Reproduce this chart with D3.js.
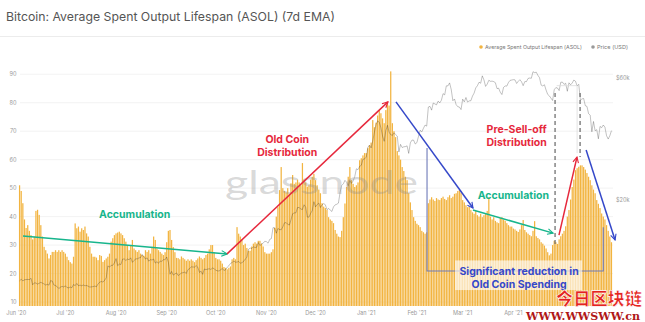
<!DOCTYPE html>
<html><head><meta charset="utf-8">
<script src="https://cdn.jsdelivr.net/npm/d3@7"></script>
<style>body{margin:0;background:#fff}svg{display:block}</style>
</head><body>
<svg id="c" width="645" height="322"></svg>
<script>
// ---------- data ----------
const startDate = "2020-06-03";
const asol = [
51,49,44.7,39,36,37,35,33.5,32,33,42,42.4,40.6,37,33,29.4,28.2,27,25.3,26.5,
27.6,27.6,28.2,27.6,28.2,27.6,28.2,27.6,27,25.9,24.7,24,23.5,25.9,37.6,35.9,36.5,34.7,35.9,35.3,
36.5,34.1,33,29.4,27,25.9,25.9,25.6,24.7,26.5,26.2,24.1,24.7,25.3,25.9,27,31.2,32.4,33.5,34.1,
34.4,34.7,34.1,33.5,32.4,31.2,30,28.2,30,31.8,28.8,28.2,27.6,28.2,27,26.5,26.2,28.2,27.6,28.2,
27,29.4,33,31.8,28.8,28.2,27.6,27,26.5,27.5,31,35,35.3,31.8,29.3,27.5,25.5,25.4,25,26,
25.5,25,24.5,25,24.5,25,24.5,24,24.7,25.3,26,25.5,25,25.5,26.5,27,28.5,30,30,27.5,
25.5,25,25,24.5,23.5,22.3,22,21.5,22,22.5,25,25.5,25,36.3,34,33,32,30,30.5,29,
28,28,29.5,30.5,31,30.5,31.5,31.5,30.5,29.5,27.5,27,27,27,27.5,28.5,36,40,43.3,49.3,
57.4,50,49,48.5,50,48,51.7,54.6,51.5,52,53,52,51,58.8,53,52,50.5,51,53,54,
55,52.8,51,49.5,48.2,44.7,43.5,43,42.3,39.8,39,38.5,37.7,35.3,34,33,32.8,35,39.8,44.6,
50.4,54,57.4,52.8,51.5,50.4,51,52,59.8,60.5,61.5,62.3,62.3,64,65,66,73.9,71.4,73,75.5,
77.4,76.3,74.5,72.8,77.4,80,79,91,72.8,70,67.9,63,61.5,60,57.4,56,54,52.8,48.2,45,
42.3,39.8,38.5,37.5,37,36.3,35,34.5,34,34.5,44.7,46,46.8,46,45.5,46.5,46,45.8,46.5,47,
46.2,45.8,46.8,47.5,46.5,47,48,48.2,49,49.3,48.5,45.8,45,44,43.3,43.5,42.3,41.5,41,42,
40.5,40,41,39.8,40.5,41,42,46.8,40,39,39.8,38.5,38,37.7,39.5,39.8,39,38.5,37.7,37,
36.5,36.5,35.8,35.5,35,34.6,35.5,37,38.8,35.3,34.5,34,33.5,33.1,35,38.4,33.1,32.5,32,31,
30.5,29.8,28.8,27.5,26.4,27,30,31.5,31,30.4,32,33.1,34,35,36.6,40,42.3,46,50.4,53,
56.3,57,57.5,58,58,57.4,56.5,55.3,54,52.8,51,49.5,48.2,45.8,44.5,43,41.1,40,39,37,
35,33,31
];
const priceUSD = [
// Jun 2020 (from 3rd)
9660,9800,9650,9750,9770,9780,9770,9880,9320,9480,9470,9380,9450,9530,9460,9390,9300,9360,9290,9680,9630,9300,9250,9160,9010,9120,9190,9140,
// Jul
9230,9090,9070,9130,9080,9340,9250,9430,9240,9290,9240,9300,9240,9260,9200,9130,9150,9170,9210,9160,9390,9540,9600,9550,9700,9930,11050,10930,11100,11110,11350,
// Aug
11800,11070,11230,11190,11740,11770,11600,11750,11680,11880,11410,11580,11780,11770,11870,11910,12250,11990,11760,11880,11530,11680,11650,11750,11330,11470,11320,11540,11510,11680,11680,
// Sep
11970,11410,10250,10510,10170,10280,10370,10130,10240,10360,10400,10440,10330,10680,10790,10950,10940,10930,11080,10920,10420,10530,10240,10740,10690,10730,10770,10700,10840,10780,
// Oct
10620,10570,10550,10670,10790,10600,10670,10920,11060,11300,11380,11550,11430,11430,11500,11320,11370,11500,11750,11920,12820,12970,12930,13120,13030,13070,13640,13270,13460,13560,13800,
// Nov
13740,13550,14030,14130,15590,15580,14830,15480,15330,15300,15700,16280,16320,16070,15960,16730,17670,17800,17820,18680,18700,18420,18370,19160,18730,17150,17140,17720,18180,19700,
// Dec
18800,19200,19450,18700,19150,19360,19170,18320,18550,18260,18040,18800,19140,19250,19440,21380,22800,23140,23860,23480,22750,23830,23240,23730,24710,26490,26280,27080,27360,28840,29000,
// Jan 2021
29370,32130,32780,31970,33990,36820,39370,40790,40250,38350,35570,33920,37320,39190,36830,36020,35790,36630,36070,35550,30830,33000,32080,32290,32360,32570,30430,33470,34320,34270,33110,
// Feb
33540,35510,37470,36930,38140,39270,38900,46200,46480,44920,47910,47500,47110,48720,47940,49130,52120,51550,55910,55890,57410,54090,48890,49680,47220,46340,46190,45140,
// Mar
49590,48400,50340,48310,48830,48880,50970,52370,54880,55960,57750,57230,61190,59020,55640,56780,58800,58230,58330,58070,57520,54530,54740,52770,51700,55140,55850,55780,57630,58730,58920,
// Apr
59100,59010,57120,58230,59090,57990,56000,58090,58080,59770,60000,59860,63500,62970,63230,61460,60140,56270,55860,56470,53850,51760,51090,50050,49000,54020,55030,54820,53560,57750,
// May
57830,56630,57210,53240,57470,56430,57380,58930,58280,55860,56700,49150,49720,49880,46760,46460,43540,42910,36960,40560,37310,37680,34700,38800,38360,39290,38530,35680,34620,35680,37340
];
const yTicks = [10,20,30,40,50,60,70,80,90];
const priceTicks = [20000,60000];
const priceTickLabels = ["$20k","$60k"];
const monthTicks = ["2020-06-01","2020-07-01","2020-08-01","2020-09-01","2020-10-01","2020-11-01","2020-12-01","2021-01-01","2021-02-01","2021-03-01","2021-04-01"];
const monthLabels = ["Jun '20","Jul '20","Aug '20","Sep '20","Oct '20","Nov '20","Dec '20","Jan '21","Feb '21","Mar '21","Apr '21"];
const title = "Bitcoin: Average Spent Output Lifespan (ASOL) (7d EMA)";
const legendLabels = ["Average Spent Output Lifespan (ASOL)","Price (USD)"];
// annotations in data space: [days since 2020-06-01, ASOL value]
const arrows = [
  {kind:"green", pts:[[4.1,33.2],[128.9,26.9]]},
  {kind:"red",   pts:[[128.9,26.9],[227.3,80.3]]},
  {kind:"blue",  pts:[[232.2,80.3],[279.3,43.0]]},
  {kind:"green", pts:[[279.3,42.3],[328.3,34.2]]},
  {kind:"red",   pts:[[331.9,33.5],[342.9,60.9]]},
  {kind:"blue",  pts:[[348.5,63.4],[366.2,31.8]]}
];
const dashed = [[[329.5,83.4],[329.5,29.3]],[[344.8,83.4],[344.8,60.9]]];
const bracket = [[251.2,64.1],[251.2,20.9],[359,20.9],[359,36.3]];
const notes = [
  {kind:"green", at:[72.4,39.5], lines:["Accumulation"]},
  {kind:"red",   at:[165.7,65.8], lines:["Old Coin","Distribution"]},
  {kind:"green", at:[304,46.3], lines:["Accumulation"]},
  {kind:"red",   at:[306,69.2], lines:["Pre-Sell-off","Distribution"]},
  {kind:"blue",  at:[307.5,19.5], lines:["Significant reduction in","Old Coin Spending"], box:[[268.3,24.6],[346,14.2]]}
];

// ---------- drawing ----------
const colors = {green:"#17b58c", red:"#e6283c", blue:"#3548c9"};
const barColor = "#f2b440";
const svg = d3.select("#c");
const parse = d3.utcParse("%Y-%m-%d");
const t0 = parse(startDate);
const tBase = parse("2020-06-01");
const dates = asol.map((_,i)=>d3.utcDay.offset(t0,i));
const x = d3.scaleUtc().domain([tBase, parse("2021-06-01")]).range([16.3, 613.1]);
const y = d3.scaleLinear().domain([8.6,95]).range([306,60]);
const yP = d3.scaleLog().domain([20000,60000]).range([200,78]);
const dx = d => x(new Date(tBase.getTime()+d*864e5));
const P = p => [dx(p[0]), y(p[1])];
const FONT = "Inter, 'Noto Sans', sans-serif";

svg.append("rect").attr("width",645).attr("height",322).attr("fill","#fff");
svg.append("text").attr("x",6).attr("y",21).attr("font-family",FONT).attr("font-size",12)
  .attr("fill","#555").attr("textLength",329).attr("lengthAdjust","spacingAndGlyphs").text(title);
svg.append("line").attr("x1",0).attr("x2",645).attr("y1",36.5).attr("y2",36.5).attr("stroke","#ececec");

// legend
const lg = svg.append("g").attr("font-family",FONT).attr("font-size",5.4).attr("fill","#777");
lg.append("circle").attr("cx",481).attr("cy",47).attr("r",1.8).attr("fill",barColor);
lg.append("text").attr("x",485).attr("y",49).attr("textLength",97).attr("lengthAdjust","spacingAndGlyphs").text(legendLabels[0]);
lg.append("circle").attr("cx",593).attr("cy",47).attr("r",1.8).attr("fill","#999");
lg.append("text").attr("x",597).attr("y",49).attr("textLength",31).attr("lengthAdjust","spacingAndGlyphs").text(legendLabels[1]);

// grid + y labels
const g = svg.append("g");
g.selectAll("line.grid").data(yTicks).join("line").attr("class","grid")
  .attr("x1",20).attr("x2",613).attr("y1",d=>y(d)).attr("y2",d=>y(d)).attr("stroke","#efefef").attr("stroke-width",0.8);
g.selectAll("text.yl").data(yTicks).join("text").attr("class","yl")
  .attr("x",16.5).attr("y",d=>y(d)+2).attr("text-anchor","end").attr("font-family",FONT)
  .attr("font-size",5.6).attr("fill","#9a9a9a").text(d=>d);
g.selectAll("text.pl").data(priceTicks).join("text").attr("class","pl")
  .attr("x",616).attr("y",d=>yP(d)+2).attr("font-family",FONT)
  .attr("font-size",5.6).attr("fill","#9a9a9a").text((d,i)=>priceTickLabels[i]);
g.selectAll("text.xl").data(monthTicks).join("text").attr("class","xl")
  .attr("x",d=>x(parse(d))).attr("y",315).attr("text-anchor","middle").attr("font-family",FONT)
  .attr("font-size",5.6).attr("fill","#9a9a9a").text((d,i)=>monthLabels[i]);

// bars
svg.append("g").selectAll("rect").data(asol).join("rect")
  .attr("x",(d,i)=>x(dates[i])-0.62).attr("width",1.24)
  .attr("y",d=>y(d)).attr("height",d=>y.range()[0]-y(d)).attr("fill",barColor);

// price line
svg.append("path").datum(priceUSD)
  .attr("d", d3.line().x((d,i)=>x(dates[i])).y(d=>yP(d)))
  .attr("fill","none").attr("stroke","#000").attr("stroke-opacity",0.3).attr("stroke-width",0.8);

// glassnode watermark
svg.append("text").attr("x",225).attr("y",194).attr("font-family","Lato, 'Noto Sans', sans-serif")
  .attr("font-size",33).attr("fill","#8a8a8a").attr("fill-opacity",0.33)
  .attr("textLength",193).attr("lengthAdjust","spacingAndGlyphs").text("glassnode");

// markers
const defs = svg.append("defs");
Object.entries(colors).forEach(([k,c])=>{
  defs.append("marker").attr("id","ah-"+k).attr("viewBox","0 0 10 10").attr("refX",9).attr("refY",5)
    .attr("markerWidth",7).attr("markerHeight",7).attr("markerUnits","userSpaceOnUse").attr("orient","auto")
    .append("path").attr("d","M1,1 L9,5 L1,9").attr("fill","none").attr("stroke",c).attr("stroke-width",1.6);
});

// bracket lines
svg.append("path").attr("d", d3.line()(bracket.map(P))).attr("fill","none")
  .attr("stroke","#6f7bb8").attr("stroke-width",1.1);
// dashed lines
dashed.forEach(seg=>{
  svg.append("path").attr("d", d3.line()(seg.map(P))).attr("stroke","#666")
    .attr("stroke-width",1.2).attr("stroke-dasharray","4,3");
});
// faint frame near pre-sell-off
svg.append("path").attr("d", d3.line()([[330.5,86],[343,86],[343,62.3]].map(P)))
  .attr("fill","none").attr("stroke","#dcdcdc").attr("stroke-width",0.8);

// arrows
arrows.forEach(a=>{
  svg.append("path").attr("d", d3.line()(a.pts.map(P))).attr("stroke",colors[a.kind])
    .attr("stroke-width",1.5).attr("fill","none").attr("marker-end",`url(#ah-${a.kind})`);
});

// notes
notes.forEach(n=>{
  const [cx,cy] = P(n.at);
  if(n.box){
    const [a,b] = n.box.map(P);
    svg.append("rect").attr("x",a[0]).attr("y",a[1]).attr("width",b[0]-a[0]).attr("height",b[1]-a[1])
      .attr("fill","#fff").attr("fill-opacity",0.62);
  }
  const t = svg.append("text").attr("font-family",FONT).attr("font-weight",700).attr("font-size",10.5)
    .attr("fill",colors[n.kind]).attr("text-anchor","middle");
  n.lines.forEach((l,i)=>t.append("tspan").attr("x",cx).attr("y",cy+i*13).text(l));
});

// site watermark
svg.append("text").attr("x",556).attr("y",305).attr("font-family","'Noto Sans CJK SC', sans-serif")
  .attr("font-weight",900).attr("font-size",17).attr("fill","#e4231f").attr("stroke","#fff").attr("stroke-width",0.6)
  .attr("textLength",86).attr("lengthAdjust","spacingAndGlyphs").text("今日区块链");
svg.append("text").attr("x",526).attr("y",320).attr("font-family","'DejaVu Serif', 'Liberation Serif', serif")
  .attr("font-weight",700).attr("font-size",11.5).attr("fill","#b01818")
  .attr("textLength",114).attr("lengthAdjust","spacingAndGlyphs").text("WWW.WWSWW.cn");
</script>
</body></html>
